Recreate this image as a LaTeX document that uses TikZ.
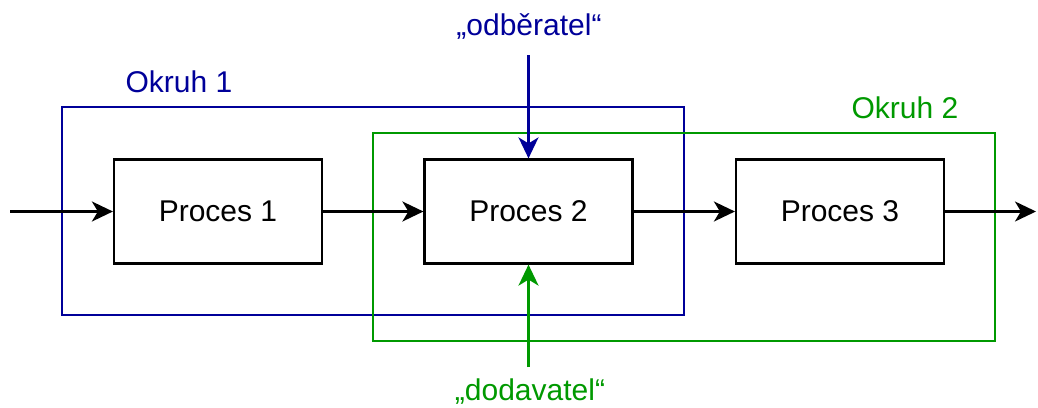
\documentclass[tikz,border=0pt]{standalone}
\usepackage{fontspec}
\setmainfont{Liberation Sans}
\usetikzlibrary{arrows.meta}
\definecolor{cblue}{HTML}{000099}
\definecolor{cgreen}{HTML}{009900}
\begin{document}
\begin{tikzpicture}[x=1pt,y=-1pt,
  every node/.style={font=\fontsize{30}{35}\selectfont, inner sep=0pt},
  proc/.style={draw=black, line width=2.2pt, minimum width=208pt, minimum height=104pt},
  loop/.style={draw, line width=2.2pt, minimum width=622pt, minimum height=208pt},
  arr/.style={line width=2.2pt, -{Stealth[length=21pt,width=20pt,inset=6pt]}}]
\useasboundingbox (0,0) rectangle (1038,407);
\node[loop, draw=cblue] (o1) at (373,211) {};
\node[loop, draw=cgreen] (o2) at (684,237) {};
\node[proc] (p1) at (218,211.5) {Proces 1};
\node[proc] (p2) at (528.5,211.5) {Proces 2};
\node[proc] (p3) at (840,211.5) {Proces 3};
\node[text=cblue] (l1) at (179,82) {Okruh 1};
\node[text=cgreen] (l2) at (905,108) {Okruh 2};
\node[text=cblue] (od) at (529,26) {„odběratel“};
\node[text=cgreen] (do) at (530,392) {„dodavatel“};
\coordinate (in) at (10,211.5);
\coordinate (out) at (1036,211.5);
\coordinate (ts) at (528.5,55);
\coordinate (bs) at (528.5,367);
\draw[arr] (in) -- (p1.west);
\draw[arr] (p1.east) -- (p2.west);
\draw[arr] (p2.east) -- (p3.west);
\draw[arr] (p3.east) -- (out);
\draw[arr, cblue] (ts) -- (p2.north);
\draw[arr, cgreen] (bs) -- (p2.south);
\end{tikzpicture}
\end{document}
